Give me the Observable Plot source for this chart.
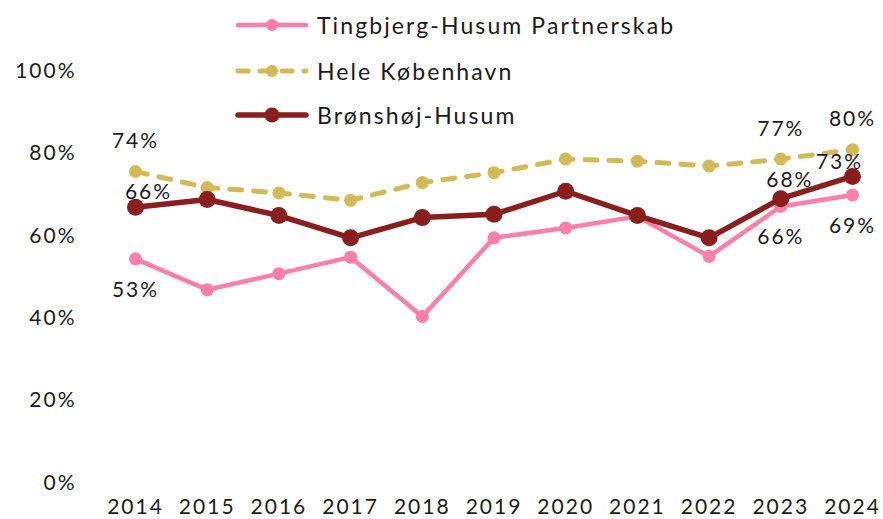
<!DOCTYPE html>
<html>
<head>
<meta charset="utf-8">
<script src="https://cdn.jsdelivr.net/npm/d3@7"></script>
<script src="https://cdn.jsdelivr.net/npm/@observablehq/plot@0.6"></script>
<style>
  html, body { margin: 0; padding: 0; background: #fff; }
  #wrap { position: relative; width: 883px; height: 519px; font-family: Lato, "Open Sans", sans-serif; color: #1a1a1a; }
  #wrap svg text { letter-spacing: 2px; }
  #legend { position: absolute; left: 235px; top: 0; }
  .lrow { position: absolute; left: 0; height: 30px; display: flex; align-items: center; white-space: nowrap; font-size: 23px; letter-spacing: 2.1px; }
  .lrow svg { width: 74px; height: 20px; margin-right: 8px; }
</style>
</head>
<body>
<div id="wrap"><div id="legend"></div></div>
<script>
const years = [2014, 2015, 2016, 2017, 2018, 2019, 2020, 2021, 2022, 2023, 2024];
const tingbjerg = [53.2, 45.7, 49.6, 53.6, 39.2, 58.3, 60.7, 63.5, 53.8, 65.9, 68.7];
const heleKbh   = [74.4, 70.5, 69.2, 67.4, 71.7, 74.1, 77.4, 76.9, 75.7, 77.4, 79.7];
const bronshoj  = [65.7, 67.6, 63.7, 58.3, 63.2, 64.0, 69.6, 63.7, 58.3, 67.8, 73.2];
const yTicks = [0, 20, 40, 60, 80, 100];
const seriesNames = ["Tingbjerg-Husum Partnerskab", "Hele København", "Brønshøj-Husum"];
const labelYears = [2014, 2023, 2024];

const PINK = "#ff7fa6", GOLD = "#d4b957", BROWN = "#8a1e1c";

const rows = vals => years.map((year, i) => ({year, value: vals[i]}));
const T = rows(tingbjerg), K = rows(heleKbh), B = rows(bronshoj);
const lab = (arr, ys) => arr.filter(d => ys.includes(d.year));
const fmt = d => Math.round(d.value) + "%";
const txt = {x: "year", y: "value", text: fmt, fill: "#1a1a1a", fontSize: 21};

const chart = Plot.plot({
  width: 883, height: 519,
  marginLeft: 80, marginRight: 30, marginTop: 0, marginBottom: 36,
  x: {domain: [2014, 2024], range: [135, 852]},
  y: {domain: [0, 100], range: [477.5, 65.5]},
  style: {fontFamily: "Lato, 'Open Sans', sans-serif", fontSize: "21px", color: "#1a1a1a", background: "#fff", overflow: "visible"},
  marks: [
    Plot.axisY({ticks: yTicks, tickFormat: d => d + "%", tickSize: 0, tickPadding: 4, dy: 5, label: null, fontSize: 21, fill: "#1a1a1a"}),
    Plot.axisX({ticks: years, tickFormat: d => String(d), tickSize: 0, tickPadding: 16, label: null, fontSize: 21, fill: "#1a1a1a"}),
    Plot.line(T, {x: "year", y: "value", stroke: PINK, strokeWidth: 4.5, strokeLinejoin: "round"}),
    Plot.dot(T, {x: "year", y: "value", r: 6.5, fill: PINK}),
    Plot.line(K, {x: "year", y: "value", stroke: GOLD, strokeWidth: 5, strokeDasharray: "12,12", strokeLinecap: "round"}),
    Plot.dot(K, {x: "year", y: "value", r: 6.5, fill: GOLD}),
    Plot.line(B, {x: "year", y: "value", stroke: BROWN, strokeWidth: 5.5, strokeLinejoin: "round"}),
    Plot.dot(B, {x: "year", y: "value", r: 8.5, fill: BROWN}),
    Plot.text(lab(K, labelYears), {...txt, dy: -30}),
    Plot.text(lab(T, labelYears), {...txt, dy: 31}),
    Plot.text(lab(B, [2014]), {...txt, dx: 13, dy: -15}),
    Plot.text(lab(B, [2023]), {...txt, dx: 9, dy: -18}),
    Plot.text(lab(B, [2024]), {...txt, dx: -13, dy: -14})
  ]
});
document.getElementById("wrap").prepend(chart);

const legendStyles = [
  {color: PINK, w: 4.5, r: 6, dash: null},
  {color: GOLD, w: 5, r: 6, dash: "10,12"},
  {color: BROWN, w: 5.5, r: 7.5, dash: null}
];
const rowY = [25, 70.7, 115];
const legend = document.getElementById("legend");
seriesNames.forEach((name, i) => {
  const s = legendStyles[i];
  const row = document.createElement("div");
  row.className = "lrow";
  row.style.top = (rowY[i] - 15) + "px";
  row.innerHTML = `<svg viewBox="0 0 74 20"><line x1="3" y1="10" x2="71" y2="10" stroke="${s.color}" stroke-width="${s.w}" stroke-linecap="round" ${s.dash ? `stroke-dasharray="${s.dash}"` : ""}/><circle cx="37" cy="10" r="${s.r}" fill="${s.color}"/></svg><span>${name}</span>`;
  legend.appendChild(row);
});
</script>
</body>
</html>
